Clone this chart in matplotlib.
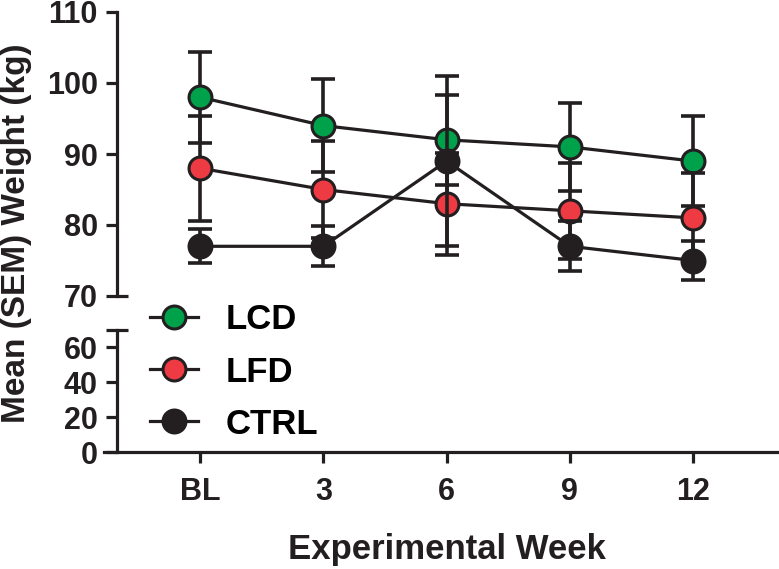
import matplotlib
matplotlib.use("Agg")
import matplotlib.pyplot as plt
from matplotlib.lines import Line2D

weeks = [0, 3, 6, 9, 12]
week_labels = ["BL", "3", "6", "9", "12"]

lcd = [98, 94, 92, 91, 89]
lcd_sem = [6.4, 6.6, 6.3, 6.2, 6.3]
lfd = [88, 85, 83, 82, 81]
lfd_sem = [7.4, 6.8, 7.2, 6.8, 6.3]
ctrl = [77, 77, 89, 77, 75]
ctrl_sem = [2.4, 2.8, 12.0, 3.5, 2.8]

names = ["LCD", "LFD", "CTRL"]
colors = ["#00a14b", "#ee3a43", "#231f20"]
dark = "#231f20"

plt.rcParams["font.family"] = ["Liberation Sans", "DejaVu Sans"]
plt.rcParams["font.weight"] = "bold"

W, H = 779, 569
fig = plt.figure(figsize=(W / 100, H / 100), dpi=100)

def box(l, t, r, b):
    return [l / W, 1 - b / H, (r - l) / W, (b - t) / H]

ax_top = fig.add_axes(box(104, 12, 779, 296))
ax_bot = fig.add_axes(box(104, 330, 779, 452))

xlim = (-2.34, 14.09)
spine_x = -2.02
lw = 2.3

for ax in (ax_top, ax_bot):
    ax.set_xlim(*xlim)
    ax.patch.set_alpha(0)
    ax.spines["top"].set_visible(False)
    ax.spines["right"].set_visible(False)
    ax.spines["left"].set_position(("data", spine_x))
    for s in ax.spines.values():
        s.set_linewidth(lw)
        s.set_color(dark)
    ax.tick_params(axis="both", width=lw, length=8, color=dark,
                   labelsize=22, labelcolor=dark)
    ax.tick_params(axis="y", pad=6)

ax_top.set_ylim(70, 110)
ax_top.set_yticks([70, 80, 90, 100, 110])
ax_top.spines["bottom"].set_visible(False)
ax_top.set_xticks([])

ax_bot.set_ylim(0, 70)
ax_bot.set_yticks([0, 20, 40, 60, 70])
ax_bot.set_yticklabels(["0", "20", "40", "60", ""])
ax_bot.set_xticks(weeks)
ax_bot.set_xticklabels(week_labels)
ax_bot.tick_params(axis="x", pad=10, labelsize=22)

# break marks
ax_top.plot([spine_x, spine_x + 0.27], [70, 70], color=dark, lw=lw, clip_on=False, solid_capstyle="butt")
ax_bot.plot([spine_x, spine_x + 0.27], [70, 70], color=dark, lw=lw, clip_on=False, solid_capstyle="butt")

series = [(lcd, lcd_sem), (lfd, lfd_sem), (ctrl, ctrl_sem)]
handles = []
for i, ((vals, sem), c) in enumerate(zip(series, colors)):
    ax_top.errorbar(weeks, vals, yerr=sem, fmt="none", ecolor=dark,
                    elinewidth=2.6, capsize=8.3, capthick=2.6, zorder=3 + 2 * i)
    ax_top.plot(weeks, vals, color=dark, lw=lw, marker="o", ms=16.5,
                mfc=c, mec=dark, mew=2.2, zorder=4 + 2 * i)
    handles.append(Line2D([], [], color=dark, lw=lw, marker="o", ms=16.5,
                          mfc=c, mec=dark, mew=2.2))

fig.legend(handles, names, loc="center left", bbox_to_anchor=(150 / W, 1 - 372 / H),
           frameon=False, borderpad=0, borderaxespad=0, fontsize=25,
           handlelength=1.38, handletextpad=0.8, labelspacing=0.55)

fig.text(17 / W, 1 - 233 / H, "Mean (SEM) Weight (kg)", rotation=90,
         ha="center", va="center", fontsize=24, color=dark)
fig.text(447 / W, 1 - 550 / H, "Experimental Week", ha="center", va="center",
         fontsize=25, color=dark)

fig.savefig("out.png", dpi=100)
